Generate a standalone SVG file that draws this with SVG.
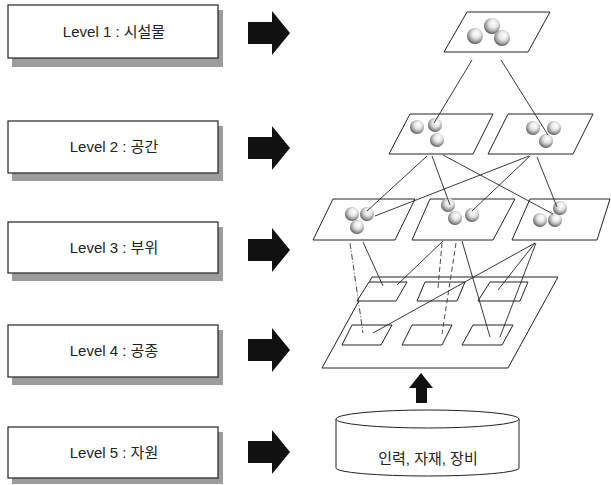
<svg xmlns="http://www.w3.org/2000/svg" width="611" height="485" viewBox="0 0 611 485">
<style>
.box{fill:#fff;stroke:#222;stroke-width:1.2}
.shd{fill:#9c9c9c}
.lbl{font-family:"Liberation Sans","Noto Sans CJK KR",sans-serif;font-size:15px;fill:#222;text-anchor:middle}
.arr{fill:#111}
.pl{fill:#fff;stroke:#222;stroke-width:1}
.sp{fill:url(#sph)}
.c{stroke:#222;stroke-width:0.9;fill:none}
.d{stroke:#333;stroke-width:0.9;fill:none;stroke-dasharray:5 3}
.dd{stroke:#333;stroke-width:0.9;fill:none;stroke-dasharray:6 2 1 2}
</style>
<defs>
<radialGradient id="sph" cx="0.55" cy="0.4" r="0.6" fx="0.62" fy="0.32">
<stop offset="0" stop-color="#ffffff"/>
<stop offset="0.45" stop-color="#e6e6e6"/>
<stop offset="0.8" stop-color="#9a9a9a"/>
<stop offset="1" stop-color="#555"/>
</radialGradient>
<path id="rarrow" d="M248,-11 L272,-11 L272,-22 L290,0 L272,22 L272,11 L248,11 Z"/>
</defs>

<g id="level1">
<rect class="shd" x="12" y="10" width="211" height="57"/>
<rect class="box" x="8" y="5" width="210" height="53"/>
<text class="lbl" x="114" y="37">Level 1 : 시설물</text>
</g>
<g id="level2">
<rect class="shd" x="12" y="126" width="211" height="55"/>
<rect class="box" x="8" y="121" width="210" height="52"/>
<text class="lbl" x="114" y="152">Level 2 : 공간</text>
</g>
<g id="level3">
<rect class="shd" x="12" y="227" width="211" height="54"/>
<rect class="box" x="8" y="222" width="210" height="51"/>
<text class="lbl" x="114" y="253">Level 3 : 부위</text>
</g>
<g id="level4">
<rect class="shd" x="12" y="330" width="211" height="55"/>
<rect class="box" x="8" y="325" width="210" height="52"/>
<text class="lbl" x="114" y="356">Level 4 : 공종</text>
</g>
<g id="level5">
<rect class="shd" x="12" y="432" width="211" height="52"/>
<rect class="box" x="8" y="427" width="210" height="51"/>
<text class="lbl" x="114" y="458">Level 5 : 자원</text>
</g>

<g id="arrow1"><use href="#rarrow" class="arr" transform="translate(0,33)"/></g>
<g id="arrow2"><use href="#rarrow" class="arr" transform="translate(0,148)"/></g>
<g id="arrow3"><use href="#rarrow" class="arr" transform="translate(0,250)"/></g>
<g id="arrow4"><use href="#rarrow" class="arr" transform="translate(0,350)"/></g>
<g id="arrow5"><use href="#rarrow" class="arr" transform="translate(0,452)"/></g>

<g id="facility">
<polygon class="pl" points="467,12 550,12 528,52 444,52"/>
<circle class="sp" cx="492" cy="26" r="8"/>
<circle class="sp" cx="475" cy="36" r="8"/>
<circle class="sp" cx="502" cy="38" r="8"/>
</g>

<g id="space-left">
<polygon class="pl" points="410,114 493,114 473,154 389,154"/>
<circle class="sp" cx="417" cy="127" r="7"/>
<circle class="sp" cx="435" cy="125" r="7"/>
<circle class="sp" cx="437" cy="140" r="7"/>
</g>
<g id="space-right">
<polygon class="pl" points="508,114 593,114 573,154 488,154"/>
<circle class="sp" cx="533" cy="128" r="7"/>
<circle class="sp" cx="554" cy="128" r="7"/>
<circle class="sp" cx="546" cy="141" r="7"/>
</g>

<g id="part-left">
<polygon class="pl" points="333,199 415,199 395,240 313,240"/>
<circle class="sp" cx="352" cy="214" r="7"/>
<circle class="sp" cx="367" cy="214" r="7"/>
<circle class="sp" cx="357" cy="227" r="7"/>
</g>
<g id="part-middle">
<polygon class="pl" points="430,199 515,199 493,240 412,240"/>
<circle class="sp" cx="448" cy="205" r="7"/>
<circle class="sp" cx="455" cy="218" r="7"/>
<circle class="sp" cx="472" cy="215" r="7"/>
</g>
<g id="part-right">
<polygon class="pl" points="530,199 610,199 597,240 512,240"/>
<circle class="sp" cx="540" cy="220" r="7"/>
<circle class="sp" cx="555" cy="220" r="7"/>
<circle class="sp" cx="560" cy="208" r="7"/>
</g>

<g id="work">
<polygon class="pl" points="372,277 558,277 508,368 322,368"/>
<polygon class="pl" points="369,282 407,282 396,301 357,301"/>
<polygon class="pl" points="425,282 465,282 457,301 417,301"/>
<polygon class="pl" points="490,282 528,282 520,301 478,301"/>
<polygon class="pl" points="352,325 392,325 381,345 342,345"/>
<polygon class="pl" points="412,325 452,325 442,345 402,345"/>
<polygon class="pl" points="473,325 513,325 502,345 462,345"/>
</g>

<g id="resources">
<path class="pl" d="M336,419 L336,468 A91.5,8 0 0 0 519,468 L519,419"/>
<ellipse class="pl" cx="427.5" cy="419" rx="91.5" ry="9"/>
<text class="lbl" x="428" y="464">인력, 자재, 장비</text>
</g>
<g id="up-arrow">
<polygon class="arr" points="421,373 433,388 427,388 427,403 416,403 416,388 409,388"/>
</g>

<g id="connectors">
<line class="c" x1="472" y1="60" x2="434" y2="123"/>
<line class="c" x1="501" y1="60" x2="548" y2="135"/>
<line class="c" x1="427" y1="156" x2="367" y2="211"/>
<line class="c" x1="432" y1="156" x2="450" y2="205"/>
<line class="c" x1="443" y1="155" x2="553" y2="214"/>
<line class="c" x1="529" y1="156" x2="375" y2="216"/>
<line class="c" x1="530" y1="156" x2="472" y2="211"/>
<line class="c" x1="537" y1="157" x2="557" y2="207"/>
<line class="dd" x1="350" y1="243" x2="363" y2="333"/>
<line class="c" x1="363" y1="242" x2="383" y2="286"/>
<line class="c" x1="443" y1="241" x2="397" y2="285"/>
<line class="d" x1="442" y1="243" x2="438" y2="288"/>
<line class="d" x1="456" y1="243" x2="442" y2="334"/>
<line class="c" x1="462" y1="241" x2="490" y2="337"/>
<line class="c" x1="535" y1="243" x2="373" y2="333"/>
<line class="c" x1="535" y1="243" x2="498" y2="290"/>
<line class="c" x1="536" y1="243" x2="500" y2="337"/>
</g>
</svg>
